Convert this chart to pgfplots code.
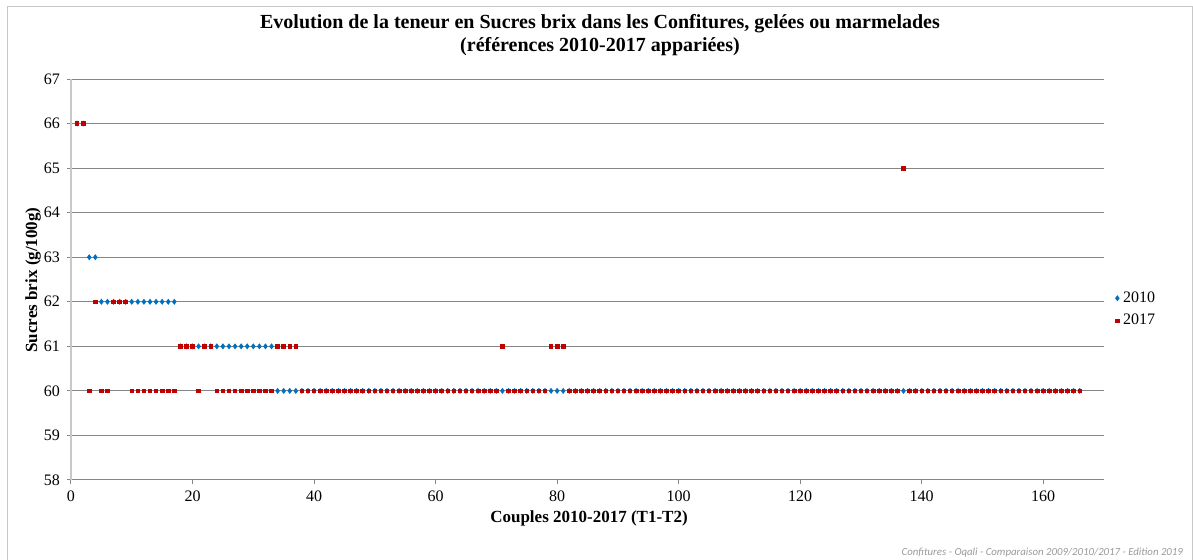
\documentclass[border=0pt]{standalone}
\usepackage{pgfplots}
\pgfplotsset{compat=1.18}
\usepackage{fontspec}
\setmainfont{Liberation Serif}
\newfontfamily\carlito{Carlito}
\definecolor{cblue}{RGB}{0,112,192}
\definecolor{cred}{RGB}{192,0,0}
\definecolor{gridgray}{RGB}{134,134,134}
\definecolor{framegray}{RGB}{200,200,200}
\begin{document}
\begin{tikzpicture}
\path[use as bounding box] (0,0) rectangle (596.5pt,280pt);
\draw[framegray,line width=0.5pt] (3.5pt,0pt)--(3.5pt,276.5pt)--(596pt,276.5pt)--(596pt,0pt);
\begin{axis}[
  at={(35.5pt,40pt)}, anchor=south west,
  scale only axis, width=516.5pt, height=200.5pt,
  xmin=0, xmax=170, ymin=58, ymax=67,
  xtick={0,20,...,160}, ytick={58,59,...,67},
  axis x line*=bottom, axis y line*=left,
  x axis line style={gridgray,line width=0.5pt,-},
  y axis line style={framegray,line width=0.8pt,-},
  ymajorgrids, grid style={gridgray,line width=0.5pt},
  tick align=outside, major tick length=2pt,
  tick style={gridgray,line width=0.5pt},
  /pgf/number format/assume math mode=true,
  ticklabel style={font=\fontsize{8}{9}\selectfont},
  legend style={at={(1.005,0.425)},anchor=west,draw=none,fill=none,
    font=\fontsize{8}{9}\selectfont,row sep=0.5pt},
  legend cell align=left,
  legend image code/.code={\draw[#1] plot coordinates {(0pt,0pt)};},
]
\addplot[only marks, mark=diamond*, mark size=1.2pt, color=cblue] coordinates {
(1,66)(2,66)(3,63)(4,63)
(5,62)(6,62)(7,62)(8,62)(9,62)(10,62)(11,62)(12,62)(13,62)(14,62)(15,62)(16,62)(17,62)
(18,61)(19,61)(20,61)(21,61)(22,61)(23,61)(24,61)(25,61)(26,61)(27,61)(28,61)(29,61)(30,61)(31,61)(32,61)(33,61)
(34,60)(35,60)(36,60)(37,60)(38,60)(39,60)(40,60)
(41,60)(42,60)(43,60)(44,60)(45,60)(46,60)(47,60)(48,60)(49,60)(50,60)
(51,60)(52,60)(53,60)(54,60)(55,60)(56,60)(57,60)(58,60)(59,60)(60,60)
(61,60)(62,60)(63,60)(64,60)(65,60)(66,60)(67,60)(68,60)(69,60)(70,60)
(71,60)(72,60)(73,60)(74,60)(75,60)(76,60)(77,60)(78,60)(79,60)(80,60)
(81,60)(82,60)(83,60)(84,60)(85,60)(86,60)(87,60)(88,60)(89,60)(90,60)
(91,60)(92,60)(93,60)(94,60)(95,60)(96,60)(97,60)(98,60)(99,60)(100,60)
(101,60)(102,60)(103,60)(104,60)(105,60)(106,60)(107,60)(108,60)(109,60)(110,60)
(111,60)(112,60)(113,60)(114,60)(115,60)(116,60)(117,60)(118,60)(119,60)(120,60)
(121,60)(122,60)(123,60)(124,60)(125,60)(126,60)(127,60)(128,60)(129,60)(130,60)
(131,60)(132,60)(133,60)(134,60)(135,60)(136,60)(137,60)(138,60)(139,60)(140,60)
(141,60)(142,60)(143,60)(144,60)(145,60)(146,60)(147,60)(148,60)(149,60)(150,60)
(151,60)(152,60)(153,60)(154,60)(155,60)(156,60)(157,60)(158,60)(159,60)(160,60)
(161,60)(162,60)(163,60)(164,60)(165,60)(166,60)
};
\addlegendentry{2010}
\addplot[only marks, mark=square*, mark size=0.9pt, color=cred] coordinates {
(1,66)(2,66)(3,60)(4,62)(5,60)(6,60)(7,62)(8,62)(9,62)
(10,60)(11,60)(12,60)(13,60)(14,60)(15,60)(16,60)(17,60)
(18,61)(19,61)(20,61)(21,60)(22,61)(23,61)
(24,60)(25,60)(26,60)(27,60)(28,60)(29,60)(30,60)(31,60)(32,60)(33,60)
(34,61)(35,61)(36,61)(37,61)(38,60)(39,60)(40,60)
(41,60)(42,60)(43,60)(44,60)(45,60)(46,60)(47,60)(48,60)(49,60)(50,60)
(51,60)(52,60)(53,60)(54,60)(55,60)(56,60)(57,60)(58,60)(59,60)(60,60)
(61,60)(62,60)(63,60)(64,60)(65,60)(66,60)(67,60)(68,60)(69,60)(70,60)
(71,61)(72,60)(73,60)(74,60)(75,60)(76,60)(77,60)(78,60)(79,61)(80,61)
(81,61)(82,60)(83,60)(84,60)(85,60)(86,60)(87,60)(88,60)(89,60)(90,60)
(91,60)(92,60)(93,60)(94,60)(95,60)(96,60)(97,60)(98,60)(99,60)(100,60)
(101,60)(102,60)(103,60)(104,60)(105,60)(106,60)(107,60)(108,60)(109,60)(110,60)
(111,60)(112,60)(113,60)(114,60)(115,60)(116,60)(117,60)(118,60)(119,60)(120,60)
(121,60)(122,60)(123,60)(124,60)(125,60)(126,60)(127,60)(128,60)(129,60)(130,60)
(131,60)(132,60)(133,60)(134,60)(135,60)(136,60)(137,65)(138,60)(139,60)(140,60)
(141,60)(142,60)(143,60)(144,60)(145,60)(146,60)(147,60)(148,60)(149,60)(150,60)
(151,60)(152,60)(153,60)(154,60)(155,60)(156,60)(157,60)(158,60)(159,60)(160,60)
(161,60)(162,60)(163,60)(164,60)(165,60)(166,60)
};
\addlegendentry{2017}
\end{axis}
\node[anchor=base,font=\bfseries\fontsize{10}{12}\selectfont] at (300pt,265.5pt) {Evolution de la teneur en Sucres brix dans les Confitures, gelées ou marmelades};
\node[anchor=base,font=\bfseries\fontsize{10}{12}\selectfont] at (300pt,254pt) {(références 2010-2017 appariées)};
\node[anchor=base,font=\bfseries\fontsize{8.5}{10}\selectfont] at (294.5pt,18.5pt) {Couples 2010-2017 (T1-T2)};
\node[rotate=90,font=\bfseries\fontsize{8.5}{10}\selectfont] at (16.5pt,140pt) {Sucres brix (g/100g)};
\node[anchor=base east,font=\carlito\itshape\fontsize{5.4}{6.5}\selectfont,text=gray!80] at (595pt,2pt) {Confitures - Oqali - Comparaison 2009/2010/2017 - Edition 2019};
\end{tikzpicture}
\end{document}
